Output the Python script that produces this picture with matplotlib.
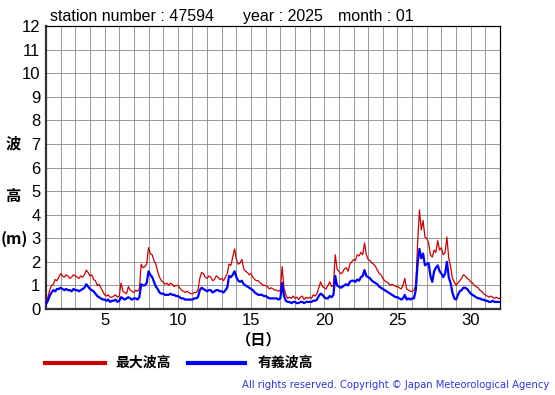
import numpy as np
import matplotlib.pyplot as plt

# 3-hourly readings, 8 per day, Jan 1 00:00 .. Feb 1 00:00
max_wave = [
    0.3, 0.5, 0.8, 1.0, 1.05, 1.25, 1.2, 1.35,      # 1
    1.5, 1.4, 1.35, 1.45, 1.4, 1.3, 1.35, 1.45,     # 2
    1.4, 1.35, 1.3, 1.4, 1.35, 1.45, 1.65, 1.55,    # 3
    1.4, 1.45, 1.25, 1.2, 1.0, 1.05, 0.9, 0.75,     # 4
    0.6, 0.55, 0.6, 0.5, 0.5, 0.55, 0.6, 0.5,       # 5
    0.55, 1.1, 0.75, 0.7, 0.65, 0.95, 0.8, 0.75,    # 6
    0.7, 0.8, 0.75, 0.85, 1.9, 1.75, 1.8, 1.9,      # 7
    2.6, 2.35, 2.3, 2.05, 1.9, 1.6, 1.35, 1.2,      # 8
    1.15, 1.05, 1.1, 1.0, 1.1, 1.05, 0.95, 1.0,     # 9
    1.0, 0.9, 0.8, 0.75, 0.7, 0.75, 0.7, 0.65,      # 10
    0.65, 0.7, 0.7, 0.8, 1.3, 1.55, 1.5, 1.35,      # 11
    1.3, 1.4, 1.35, 1.2, 1.25, 1.4, 1.35, 1.25,     # 12
    1.3, 1.2, 1.35, 1.5, 1.9, 1.85, 2.2, 2.55,      # 13
    2.1, 1.9, 1.95, 2.1, 1.7, 1.6, 1.55, 1.45,      # 14
    1.5, 1.35, 1.25, 1.2, 1.2, 1.1, 1.05, 1.0,      # 15
    1.0, 0.95, 0.85, 0.9, 0.85, 0.8, 0.8, 0.75,     # 16
    0.8, 1.8, 0.9, 0.6, 0.45, 0.5, 0.45, 0.55,      # 17
    0.45, 0.5, 0.4, 0.5, 0.55, 0.4, 0.5, 0.45,      # 18
    0.5, 0.45, 0.6, 0.55, 0.65, 0.9, 1.15, 0.95,    # 19
    0.9, 0.85, 1.0, 1.15, 0.95, 1.0, 2.3, 1.7,      # 20
    1.6, 1.5, 1.55, 1.7, 1.75, 1.6, 1.9, 2.0,       # 21
    2.1, 2.05, 2.3, 2.25, 2.4, 2.3, 2.8, 2.3,       # 22
    2.1, 2.05, 1.95, 1.9, 1.8, 1.65, 1.5, 1.45,     # 23
    1.3, 1.2, 1.15, 1.1, 1.0, 1.05, 1.0, 0.95,      # 24
    0.95, 0.9, 0.85, 1.0, 1.3, 0.85, 0.8, 0.75,     # 25
    0.75, 0.8, 1.0, 2.8, 4.2, 3.35, 3.75, 3.05,     # 26
    3.0, 2.8, 2.3, 2.2, 2.5, 2.4, 2.9, 2.5,         # 27
    2.6, 2.3, 2.4, 3.05, 2.15, 1.8, 1.3, 1.15,      # 28
    1.0, 1.1, 1.2, 1.3, 1.45, 1.4, 1.3, 1.25,       # 29
    1.15, 1.1, 1.0, 0.95, 0.9, 0.8, 0.75, 0.65,     # 30
    0.6, 0.55, 0.5, 0.55, 0.5, 0.45, 0.5, 0.45,     # 31
    0.45,
]

sig_wave = [
    0.2, 0.35, 0.55, 0.7, 0.8, 0.75, 0.85, 0.85,    # 1
    0.9, 0.85, 0.8, 0.85, 0.8, 0.8, 0.75, 0.85,     # 2
    0.8, 0.8, 0.75, 0.8, 0.85, 0.9, 1.05, 0.95,     # 3
    0.85, 0.8, 0.75, 0.65, 0.55, 0.5, 0.45, 0.4,    # 4
    0.4, 0.35, 0.4, 0.3, 0.35, 0.35, 0.4, 0.3,      # 5
    0.35, 0.5, 0.45, 0.4, 0.45, 0.5, 0.45, 0.4,     # 6
    0.45, 0.45, 0.4, 0.5, 1.05, 1.0, 1.0, 1.1,      # 7
    1.6, 1.45, 1.35, 1.15, 0.95, 0.85, 0.7, 0.65,   # 8
    0.65, 0.6, 0.6, 0.6, 0.65, 0.6, 0.6, 0.55,      # 9
    0.55, 0.5, 0.45, 0.45, 0.4, 0.4, 0.4, 0.4,      # 10
    0.4, 0.45, 0.45, 0.5, 0.8, 0.9, 0.85, 0.8,      # 11
    0.75, 0.8, 0.8, 0.7, 0.75, 0.8, 0.8, 0.75,      # 12
    0.75, 0.7, 0.8, 0.9, 1.4, 1.35, 1.45, 1.6,      # 13
    1.35, 1.2, 1.15, 1.2, 1.05, 1.0, 0.95, 0.9,     # 14
    0.85, 0.8, 0.7, 0.65, 0.6, 0.6, 0.6, 0.55,      # 15
    0.55, 0.5, 0.45, 0.45, 0.45, 0.45, 0.45, 0.4,   # 16
    0.45, 1.1, 0.55, 0.35, 0.3, 0.3, 0.25, 0.3,     # 17
    0.3, 0.25, 0.25, 0.3, 0.3, 0.25, 0.3, 0.3,      # 18
    0.3, 0.3, 0.35, 0.35, 0.4, 0.55, 0.65, 0.6,     # 19
    0.5, 0.45, 0.45, 0.55, 0.5, 0.6, 1.4, 1.0,      # 20
    0.95, 0.9, 0.95, 1.0, 1.05, 1.0, 1.15, 1.2,     # 21
    1.2, 1.15, 1.25, 1.2, 1.35, 1.4, 1.65, 1.4,     # 22
    1.35, 1.3, 1.2, 1.15, 1.1, 1.05, 0.95, 0.9,     # 23
    0.85, 0.8, 0.75, 0.7, 0.65, 0.6, 0.55, 0.5,     # 24
    0.5, 0.45, 0.4, 0.45, 0.6, 0.4, 0.45, 0.4,      # 25
    0.45, 0.45, 0.8, 1.95, 2.55, 2.15, 2.35, 1.85,  # 26
    1.9, 1.95, 1.4, 1.15, 1.6, 1.75, 1.85, 1.6,     # 27
    1.5, 1.35, 1.5, 2.0, 1.35, 1.1, 0.7, 0.45,      # 28
    0.4, 0.6, 0.75, 0.8, 0.9, 0.9, 0.85, 0.75,      # 29
    0.65, 0.6, 0.55, 0.5, 0.45, 0.45, 0.4, 0.4,     # 30
    0.35, 0.35, 0.3, 0.3, 0.35, 0.3, 0.3, 0.3,      # 31
    0.3,
]

day_ticks = [5, 10, 15, 20, 25, 30]
height_ticks = list(range(0, 13))

days = 1 + np.arange(len(max_wave)) / 8.0

plt.rcParams['font.family'] = ['Liberation Sans', 'Noto Sans CJK JP', 'DejaVu Sans']
cjk = ['Noto Sans CJK JP', 'DejaVu Sans']

fig = plt.figure(figsize=(5.55, 3.95), dpi=100)
ax = fig.add_axes([46 / 555, 1 - 309 / 395, 454 / 555, 283 / 395])

ax.plot(days, max_wave, color='#cc0000', linewidth=0.9, zorder=3)
ax.plot(days, sig_wave, color='#0000ff', linewidth=1.6, zorder=4)

ax.set_xlim(1, 32)
ax.set_ylim(0, 12)
ax.set_xticks(day_ticks)
ax.set_xticks(np.arange(1, 33), minor=True)
ax.set_yticks(height_ticks)
ax.grid(True, which='both', axis='x', color='#888888', linewidth=0.6)
ax.grid(True, which='major', axis='y', color='#888888', linewidth=0.6)
ax.tick_params(which='both', length=0, labelsize=12)
ax.tick_params(axis='x', pad=3)
ax.tick_params(axis='y', pad=4)
for side in ['left', 'bottom']:
    ax.spines[side].set_linewidth(1.6)
    ax.spines[side].set_color('#333333')
for side in ['top', 'right']:
    ax.spines[side].set_linewidth(0.9)

fig.text(50 / 555, 1 - 21 / 395, 'station number : 47594', fontsize=11.5, va='baseline')
fig.text(243 / 555, 1 - 21 / 395, 'year : 2025', fontsize=11.5, va='baseline')
fig.text(338 / 555, 1 - 21 / 395, 'month : 01', fontsize=11.5, va='baseline')

fig.text(13 / 555, 1 - 143 / 395, '波', family=cjk, fontsize=11, fontweight='bold', ha='center', va='center')
fig.text(13 / 555, 1 - 196 / 395, '高', family=cjk, fontsize=11, fontweight='bold', ha='center', va='center')
fig.text(14 / 555, 1 - 239 / 395, '(m)', family=cjk, fontsize=11.5, fontweight='bold', ha='center', va='center')
fig.text(259 / 555, 1 - 339 / 395, '（日）', family=cjk, fontsize=11, fontweight='bold', ha='center', va='center')

# legend drawn by hand to match the original layout
fig.add_artist(plt.Line2D([45 / 555, 105 / 555], [1 - 363 / 395] * 2, color='#cc0000', linewidth=3))
fig.text(115 / 555, 1 - 363 / 395, '最大波高', family=cjk, fontsize=10, fontweight='bold', va='center')
fig.add_artist(plt.Line2D([188 / 555, 245 / 555], [1 - 363 / 395] * 2, color='#0000ff', linewidth=3))
fig.text(258 / 555, 1 - 363 / 395, '有義波高', family=cjk, fontsize=10, fontweight='bold', va='center')

fig.text(549 / 555, 1 - 385 / 395, 'All rights reserved. Copyright © Japan Meteorological Agency',
         family='DejaVu Sans', fontsize=7.2, color='#3333dd', ha='right', va='center')

fig.savefig('out.png', dpi=100)
